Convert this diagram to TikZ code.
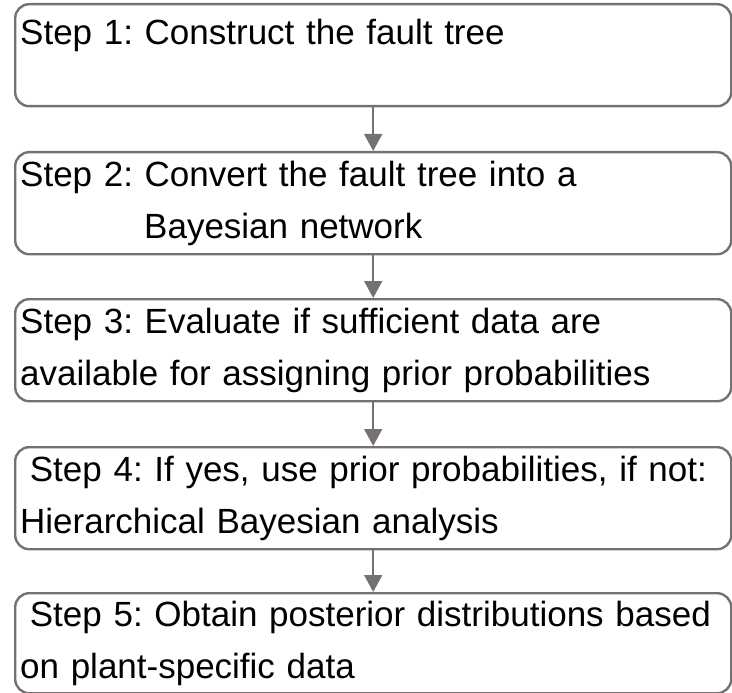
\documentclass[tikz,border=0pt]{standalone}
\usepackage{fontspec}
\setmainfont{Liberation Sans}
\usetikzlibrary{arrows.meta}
\definecolor{boxgray}{RGB}{118,113,113}
\frenchspacing
\begin{document}
\begin{tikzpicture}[x=1pt, y=-1pt,
  stepbox/.style={draw=boxgray, line width=2.4pt, rounded corners=14pt,
    anchor=north west, minimum width=716pt, minimum height=102pt,
    text width=706pt, inner xsep=5pt, align=left,
    font=\fontsize{35}{40}\selectfont,
    execute at begin node={\vspace*{12pt}}},
  flow/.style={draw=boxgray, line width=1.6pt, -{Triangle[width=18pt,length=17pt]}}]
\useasboundingbox (0,0) rectangle (732,693);
\node[stepbox] (s1) at (14,3) {Step 1: Construct the fault tree\\[-6pt] \mbox{}};
\node[stepbox] (s2) at (14,151) {Step 2: Convert the fault tree into a\\ \hspace*{124pt}Bayesian network};
\node[stepbox] (s3) at (14,298) {Step 3: Evaluate if sufficient data are\\ available for assigning prior probabilities};
\node[stepbox] (s4) at (14,446) {\hspace*{9.7pt}Step 4: If yes, use prior probabilities, if not:\\ Hierarchical Bayesian analysis};
\node[stepbox, minimum height=100pt] (s5) at (14,592) {\hspace*{9.7pt}Step 5: Obtain posterior distributions based\\ on plant-specific data};

\draw[flow] (s1) to (s2);
\draw[flow] (s2) to (s3);
\draw[flow] (s3) to (s4);
\draw[flow] (s4) to (s5);
\end{tikzpicture}
\end{document}
